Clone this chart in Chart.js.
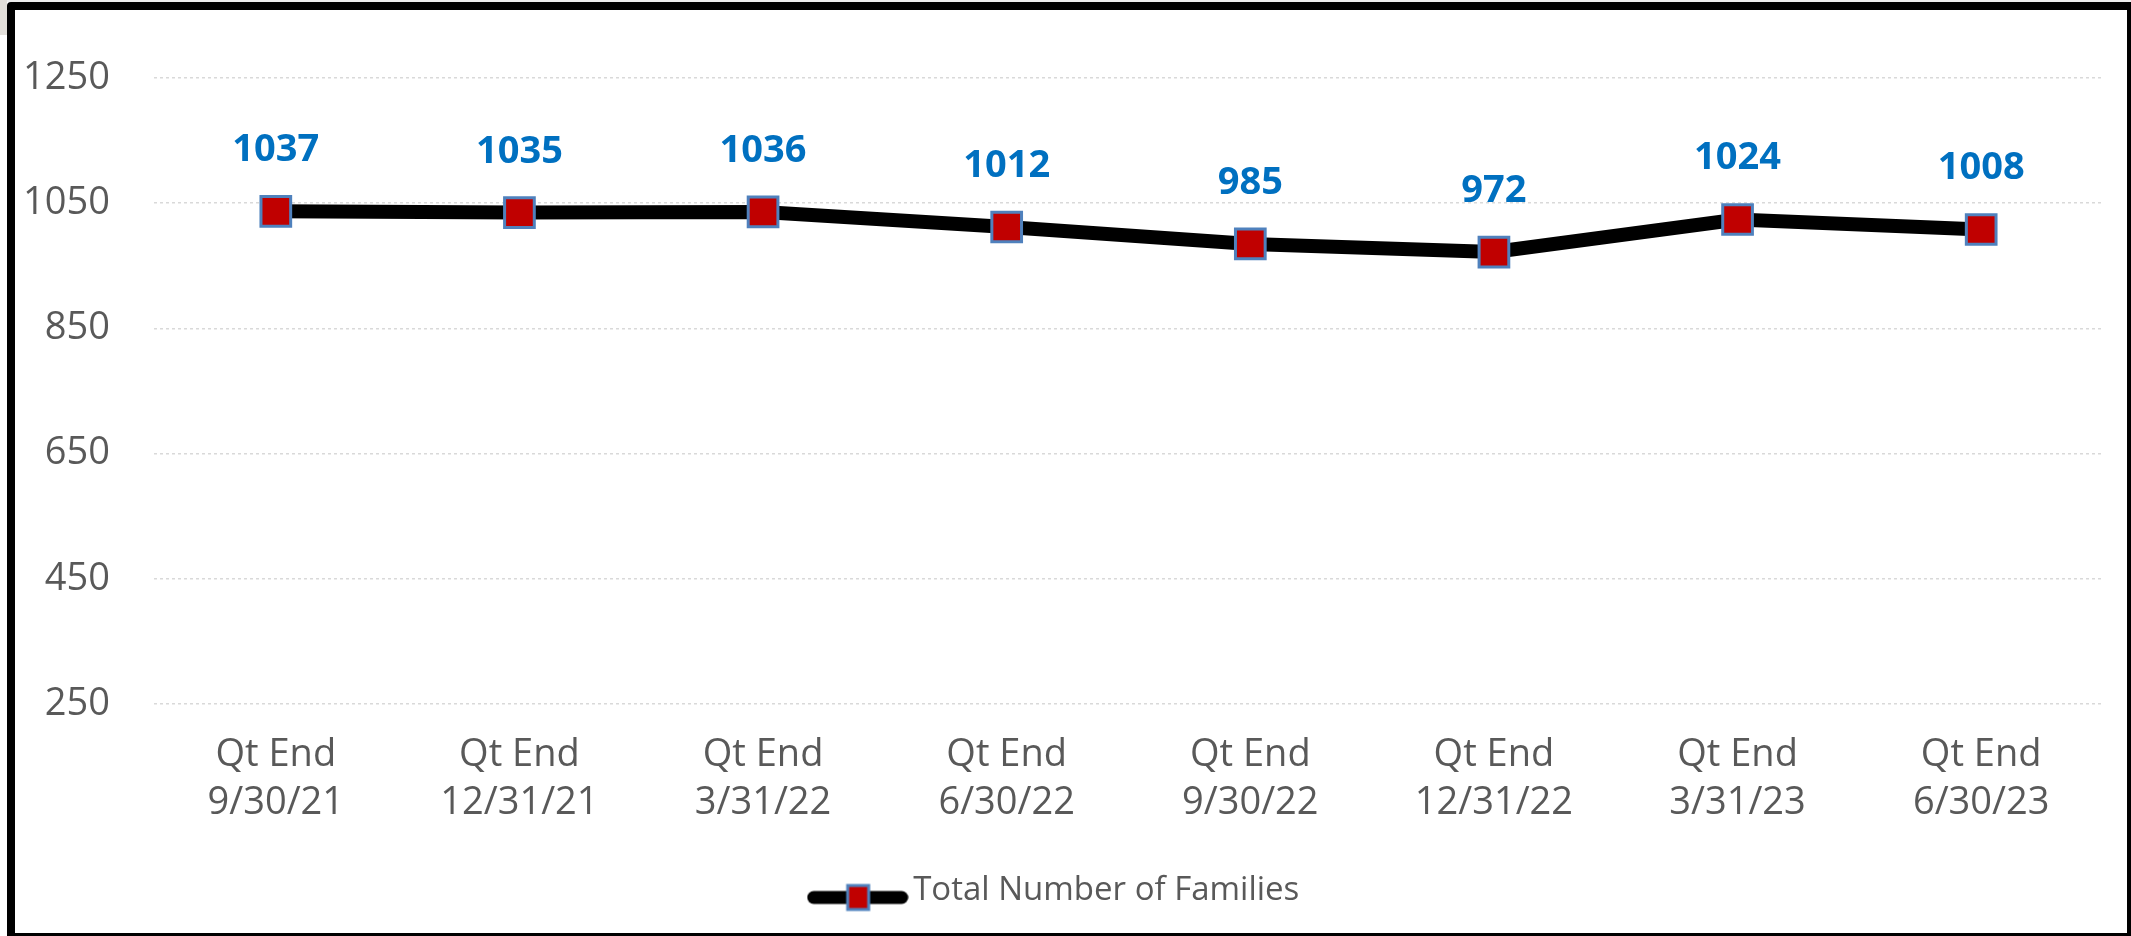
<!DOCTYPE html>
<html>
<head>
<meta charset="utf-8">
<script src="https://cdn.jsdelivr.net/npm/chart.js@4.4.1/dist/chart.umd.min.js"></script>
<style>
  html, body { margin: 0; padding: 0; width: 2131px; height: 936px; overflow: hidden; background: #ffffff; }
  #topstrip { position: absolute; left: 0; top: 0; width: 2131px; height: 2px; background: #eeeeee; }
  #corner { position: absolute; left: 0; top: 0; width: 7px; height: 35px; background: #e2dfda; }
  #frame { position: absolute; left: 7px; top: 2px; width: 2112px; height: 923px; border: 8px solid #000; border-radius: 4px 0 0 0; background: #fff; }
  #wrap { position: absolute; left: 0; top: 0; width: 2112px; height: 923px; }
</style>
</head>
<body>
<div id="topstrip"></div>
<div id="corner"></div>
<div id="frame"><div id="wrap"><canvas id="c"></canvas></div></div>
<script>
const categories = [
  ["Qt End", "9/30/21"],
  ["Qt End", "12/31/21"],
  ["Qt End", "3/31/22"],
  ["Qt End", "6/30/22"],
  ["Qt End", "9/30/22"],
  ["Qt End", "12/31/22"],
  ["Qt End", "3/31/23"],
  ["Qt End", "6/30/23"]
];
const families = [1037, 1035, 1036, 1012, 985, 972, 1024, 1008];
const seriesName = "Total Number of Families";
const yTicks = [250, 450, 650, 850, 1050, 1250];

// legend icon: thick line with square marker
const legendIcon = document.createElement('canvas');
legendIcon.width = 102; legendIcon.height = 48;
(function () {
  const g = legendIcon.getContext('2d');
  g.strokeStyle = '#000'; g.lineWidth = 13; g.lineCap = 'round';
  g.beginPath(); g.moveTo(7, 31); g.lineTo(95, 31); g.stroke();
  g.fillStyle = '#C00000'; g.fillRect(41, 19, 21, 24);
  g.strokeStyle = '#4F81BD'; g.lineWidth = 3; g.strokeRect(41, 19, 21, 24);
})();

const valueLabels = {
  id: 'valueLabels',
  afterDatasetsDraw(chart) {
    const ctx = chart.ctx;
    const meta = chart.getDatasetMeta(0);
    const data = chart.data.datasets[0].data;
    ctx.save();
    ctx.font = 'bold 38px "Open Sans"';
    ctx.fillStyle = '#0070C0';
    ctx.textAlign = 'center';
    ctx.textBaseline = 'alphabetic';
    meta.data.forEach((pt, i) => {
      ctx.fillText(String(data[i]), pt.x, pt.y - 50);
    });
    ctx.restore();
  }
};

new Chart(document.getElementById('c'), {
  type: 'line',
  data: {
    labels: categories,
    datasets: [{
      label: seriesName,
      data: families,
      borderColor: '#000000',
      borderWidth: 14,
      tension: 0,
      pointStyle: 'rect',
      pointRadius: 21,
      pointHoverRadius: 21,
      pointBackgroundColor: '#C00000',
      pointBorderColor: '#4F81BD',
      pointBorderWidth: 3,
      pointHoverBorderWidth: 3
    }]
  },
  options: {
    responsive: true,
    maintainAspectRatio: false,
    animation: false,
    layout: { padding: { top: 68, right: 24, bottom: 16, left: 0 } },
    plugins: {
      tooltip: { enabled: false },
      legend: {
        position: 'bottom',
        labels: {
          usePointStyle: true,
          pointStyleWidth: 78,
          padding: 10,
          color: '#595959',
          font: { family: '"Open Sans"', size: 33 },
          generateLabels(chart) {
            return [{
              text: seriesName,
              pointStyle: legendIcon,
              fillStyle: '#C00000',
              strokeStyle: '#4F81BD',
              lineWidth: 0,
              fontColor: '#595959',
              datasetIndex: 0,
              hidden: false
            }];
          }
        }
      }
    },
    scales: {
      x: {
        offset: true,
        grid: { display: false, drawTicks: false, offset: true },
        border: { display: false },
        ticks: {
          color: '#595959',
          padding: 28,
          maxRotation: 0,
          autoSkip: false,
          font: { family: '"Open Sans"', size: 38, lineHeight: 1.24 }
        },
        afterFit(scale) { scale.height = 160; }
      },
      y: {
        min: 250,
        max: 1250,
        afterBuildTicks(scale) { scale.ticks = yTicks.map(v => ({ value: v })); },
        grid: { color: '#d9d9d9', lineWidth: 1.5, drawTicks: false },
        border: { display: false, dash: [3, 3] },
        ticks: {
          color: '#595959',
          padding: 44,
          font: { family: '"Open Sans"', size: 38 },
          callback: (v) => String(v)
        },
        afterFit(scale) { scale.width = 139; }
      }
    }
  },
  plugins: [valueLabels]
});
</script>
</body>
</html>
